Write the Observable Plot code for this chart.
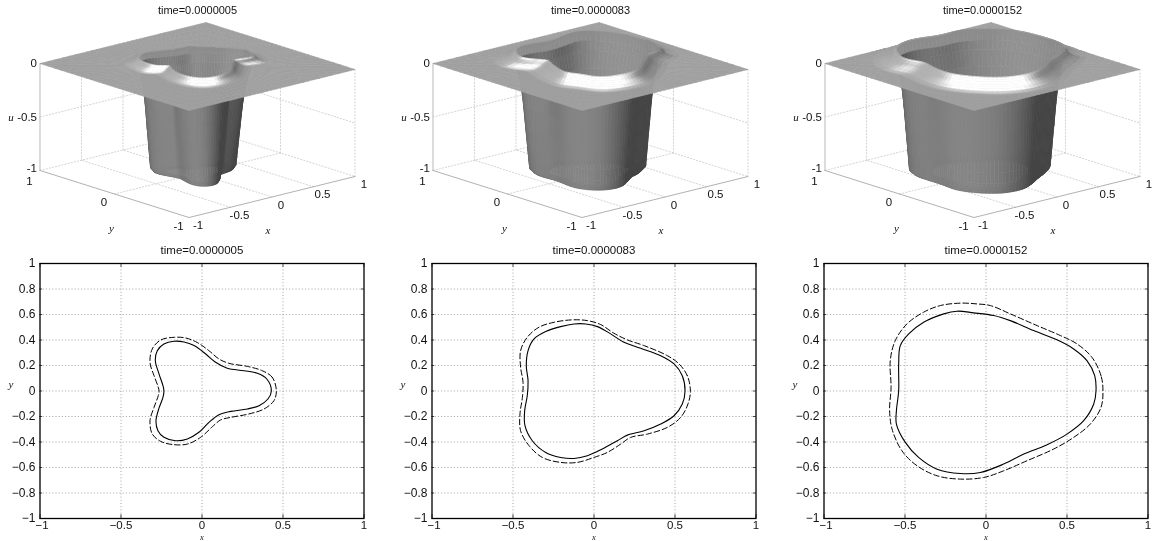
<!DOCTYPE html>
<html><head><meta charset="utf-8">
<script src="https://cdn.jsdelivr.net/npm/d3@7"></script>
<script src="https://cdn.jsdelivr.net/npm/@observablehq/plot@0.6"></script>
<style>
html,body{margin:0;padding:0;background:#fff;overflow:hidden}
#page{position:relative;width:1154px;height:541px;overflow:hidden}
#page svg{position:absolute;display:block;background:transparent;filter:blur(.35px)}
</style></head><body><div id="page"></div>
<script>
const times = ["time=0.0000005", "time=0.0000083", "time=0.0000152"];

// contours: [x, y]
const solidA = [[.428,0],[.40,.094],[.342,.139],[.259,.159],[.156,.178],[.084,.225],[.023,.29],[-.049,.356],[-.111,.384],[-.173,.39],[-.235,.369],[-.276,.316],[-.288,.238],[-.265,.133],[-.241,.042],[-.235,0],[-.241,-.05],[-.265,-.133],[-.284,-.233],[-.272,-.311],[-.235,-.363],[-.163,-.39],[-.09,-.376],[-.019,-.324],[.043,-.246],[.105,-.186],[.177,-.16],[.28,-.141],[.352,-.115],[.407,-.063]];
const dashedA = [[.459,0],[.434,.107],[.372,.159],[.28,.193],[.167,.217],[.105,.251],[.043,.316],[-.029,.38],[-.101,.416],[-.173,.421],[-.255,.4],[-.307,.33],[-.321,.225],[-.296,.12],[-.27,.03],[-.265,0],[-.27,-.037],[-.296,-.128],[-.321,-.233],[-.307,-.337],[-.255,-.395],[-.173,-.421],[-.09,-.416],[-.008,-.363],[.064,-.28],[.115,-.227],[.177,-.207],[.29,-.18],[.383,-.141],[.444,-.076]];
const solidB = [[.562,0],[.545,.12],[.494,.212],[.412,.277],[.288,.335],[.185,.382],[.103,.448],[.021,.505],[-.051,.526],[-.123,.526],[-.206,.505],[-.298,.466],[-.37,.408],[-.407,.317],[-.418,.199],[-.407,.081],[-.412,-.037],[-.428,-.154],[-.426,-.272],[-.381,-.39],[-.298,-.482],[-.206,-.521],[-.123,-.529],[-.041,-.508],[.051,-.455],[.144,-.39],[.206,-.346],[.309,-.312],[.412,-.259],[.494,-.194],[.545,-.102]];
const dashedB = [[.595,0],[.576,.12],[.525,.212],[.453,.277],[.309,.356],[.206,.401],[.123,.453],[.041,.521],[-.041,.552],[-.134,.558],[-.247,.539],[-.34,.5],[-.412,.421],[-.453,.317],[-.453,.186],[-.438,.068],[-.442,-.05],[-.457,-.181],[-.453,-.312],[-.401,-.429],[-.319,-.521],[-.206,-.56],[-.103,-.56],[0,-.521],[.082,-.482],[.165,-.416],[.226,-.364],[.329,-.338],[.453,-.285],[.535,-.207],[.58,-.102]];
const solidC = [[.679,0],[.671,.12],[.623,.238],[.541,.33],[.438,.401],[.294,.474],[.15,.552],[.047,.592],[-.076,.613],[-.179,.626],[-.261,.605],[-.385,.539],[-.477,.448],[-.529,.356],[-.539,.212],[-.539,.003],[-.553,-.154],[-.553,-.259],[-.498,-.403],[-.416,-.521],[-.302,-.613],[-.158,-.647],[-.035,-.639],[.109,-.573],[.233,-.495],[.377,-.421],[.5,-.338],[.603,-.233],[.665,-.102]];
const dashedC = [[.722,0],[.71,.12],[.654,.264],[.562,.369],[.459,.435],[.315,.513],[.15,.605],[.027,.67],[-.056,.683],[-.158,.689],[-.282,.67],[-.385,.618],[-.488,.526],[-.56,.395],[-.591,.238],[-.586,.029],[-.595,-.154],[-.58,-.298],[-.519,-.469],[-.426,-.586],[-.302,-.665],[-.158,-.691],[-.014,-.678],[.109,-.626],[.253,-.547],[.418,-.455],[.541,-.364],[.644,-.259],[.71,-.128]];

// rim of the opening: [x, y]
const rimA = [[-.362,.388],[-.186,.49],[-.042,.449],[.136,.38],[.24,.374],[.292,.285],[.427,.167],[.521,.043],[.531,-.093],[.458,-.242],[.374,-.254],[.293,-.183],[.123,-.333],[.003,-.44],[-.214,-.507],[-.372,-.455],[-.422,-.283],[-.383,-.104],[-.295,.074],[-.385,.068],[-.409,.216]];
const rimB = [[-.408,.552],[-.281,.654],[-.114,.678],[.085,.632],[.37,.681],[.467,.682],[.596,.57],[.707,.345],[.741,.06],[.687,-.148],[.566,-.255],[.462,-.25],[.285,-.393],[.052,-.573],[-.15,-.61],[-.37,-.546],[-.44,-.356],[-.499,-.22],[-.43,.018],[-.363,.172],[-.41,.255],[-.483,.362],[-.437,.492]];
const rimC = [[-.44,.665],[-.306,.76],[-.11,.803],[.158,.739],[.4,.741],[.556,.647],[.758,.428],[.812,.126],[.797,-.159],[.71,-.296],[.569,-.386],[.408,-.458],[.189,-.608],[-.048,-.698],[-.29,-.658],[-.472,-.499],[-.59,-.268],[-.591,-.055],[-.536,.195],[-.581,.32],[-.563,.474]];
const lipHeight = [.06, .09, .1];
const lipWidth = [.14, .2, .22];

const xTicks3D = [-1, -.5, 0, .5, 1], yTicks3D = [-1, 0, 1], zTicks3D = [0, -.5, -1];
const xTicks2D = [-1, -.5, 0, .5, 1], yTicks2D = [1, .8, .6, .4, .2, 0, -.2, -.4, -.6, -.8, -1];

const sans = "'Liberation Sans', Arial, sans-serif", serif = "'Liberation Serif', serif";
const page = document.getElementById("page");
const place = (svg, left, top) => { svg.style.left = left + "px"; svg.style.top = top + "px"; page.appendChild(svg); };

// view of the 3-D box
const pX = (x, y) => 83 * x - 74.5 * y;
const pY = (x, y, z) => 20.5 * x + 23.5 * y + 107 * z;
const V = [-.645, -.715, .277];
const L = [-.43, -.16, .61];
const H = [-.38, -.48, .79];
const N = 120;

function dense(loop) {
  const out = [], n = loop.length;
  for (let i = 0; i < n; i++) {
    const p0 = loop[(i - 1 + n) % n], p1 = loop[i], p2 = loop[(i + 1) % n], p3 = loop[(i + 2) % n];
    for (let k = 0; k < 6; k++) {
      const t = k / 6, t2 = t * t, t3 = t2 * t;
      out.push([0, 1].map(c => .5 * (2 * p1[c] + (p2[c] - p0[c]) * t + (2 * p0[c] - 5 * p1[c] + 4 * p2[c] - p3[c]) * t2 + (3 * p1[c] - p0[c] - 3 * p2[c] + p3[c]) * t3)));
    }
  }
  return out;
}
function radial(loop) {
  const c = dense(loop), r = [];
  for (let k = 0; k < N; k++) {
    const a = 2 * Math.PI * k / N, ux = Math.cos(a), uy = Math.sin(a);
    let best = 0;
    for (let i = 0; i < c.length; i++) {
      const A = c[i], B = c[(i + 1) % c.length], ex = B[0] - A[0], ey = B[1] - A[1];
      const det = ux * (-ey) + ex * uy;
      if (Math.abs(det) < 1e-12) continue;
      const t = (A[0] * (-ey) + ex * A[1]) / det, s = (ux * A[1] - uy * A[0]) / det;
      if (t > 0 && s >= 0 && s <= 1 && t > best) best = t;
    }
    r.push(best);
  }
  return r;
}
function smooth(r, passes) {
  let s = r;
  for (let p = 0; p < passes; p++) s = s.map((v, i) => (s[(i + N - 1) % N] + 2 * v + s[(i + 1) % N]) / 4);
  return s;
}
function shade(p00, p10, p11, p01, isWall, isCrest) {
  const d1 = p11.map((v, i) => v - p00[i]), d2 = p01.map((v, i) => v - p10[i]);
  let n = [d1[1] * d2[2] - d1[2] * d2[1], d1[2] * d2[0] - d1[0] * d2[2], d1[0] * d2[1] - d1[1] * d2[0]];
  const m = Math.hypot(...n); if (m < 1e-12) return null;
  n = n.map(v => v / m);
  const away = n[2] < 0 && !isWall;
  if (n[0] * V[0] + n[1] * V[1] + n[2] * V[2] < 0) n = n.map(v => -v);
  let g;
  if (isWall) {
    n[2] = 0; const q = Math.hypot(...n) || 1; n = n.map(v => v / q);
    const inner = n[0] * (p00[0] + p11[0]) + n[1] * (p00[1] + p11[1]) < 0;
    g = .27 + .55 * Math.max(0, n[0] * L[0] + n[1] * L[1]) + (inner ? .05 : 0);
    if (isCrest) g = Math.max(g, .55);
  } else if (n[2] < 0) {
    g = .63;
  } else {
    if (n[0] + n[1] > 0) { n = [n[0] * .35, n[1] * .35, n[2]]; const q = Math.hypot(...n); n = n.map(v => v / q); }
    const dif = Math.max(0, n[0] * L[0] + n[1] * L[1] + n[2] * L[2]);
    const nh = n[0] * H[0] + n[1] * H[1] + n[2] * H[2];
    const spec = Math.pow(Math.max(0, nh - .82) / .18, 2);
    g = .2 + .7 * dif + .75 * spec;
  }
  const c = Math.round(Math.min(1, g) * 255);
  return `rgb(${c},${c},${c})`;
}
function mesh(rim, solid, h, w) {
  const edge = k => { const a = 2 * Math.PI * k / N; return 1 / Math.max(Math.abs(Math.cos(a)), Math.abs(Math.sin(a))); };
  const wall = [[.7, 0, -1], [.94, 0, -1], [1, 0, -.97], [1, .06, -.9], [1, .14, -.8], [1, .3, -.6], [1, .45, -.4], [1, .62, -.22], [1, .86, -.08], [1, .975, 0]];
  const lip = [[.1, .9], [.2, .73], [.3, .55], [.4, .41], [.5, .3], [.7, .12], [.9, .03], [1, 0]];
  const build = (rR, rC) => {
    const rings = [];
    for (const [a, f, z] of wall) rings.push(k => [a * (rC[k] + f * (rR[k] - rC[k])), z]);
    rings.push(k => [rR[k], h]);
    for (const [s, g] of lip) rings.push(k => [rR[k] + w * s, h * g]);
    for (const f of [.2, .4, .6, .8, 1]) rings.push(k => { const b = Math.min(rR[k] + w, edge(k)); return [b + f * (edge(k) - b), 0]; });
    return rings;
  };
  const rR0 = radial(rim), rC0 = radial(solid);
  const geomRings = build(smooth(rR0, 3), smooth(rC0, 3));
  const lookWall = build(smooth(rR0, 16), smooth(rC0, 16));
  const lookLip = build(smooth(rR0, 6), smooth(rC0, 6));
  const at = (rings, i, k0) => { const k = (k0 + N) % N, a = 2 * Math.PI * k / N, [r, z] = rings[i](k), q = Math.min(r, edge(k)); return [q * Math.cos(a), q * Math.sin(a), z]; };
  const polys = [];
  for (let i = 0; i < geomRings.length - 1; i++) for (let k = 0; k < N; k++) {
    const a = at(geomRings, i, k), b = at(geomRings, i + 1, k), c = at(geomRings, i + 1, k + 1), d = at(geomRings, i, k + 1);
    const isWall = i < wall.length, look = isWall ? lookWall : lookLip;
    const fill = shade(at(look, i, k), at(look, i + 1, k), at(look, i + 1, k + 1), at(look, i, k + 1), isWall, i === wall.length - 1);
    if (!fill) continue;
    const depth = [a, b, c, d].reduce((s, p) => s + p[0] * V[0] + p[1] * V[1] + p[2] * V[2], 0);
    polys.push({depth, fill, type: "Polygon", coordinates: [[a, b, c, d, a].map(p => [pX(p[0], p[1]), pY(p[0], p[1], p[2])])]});
  }
  return polys.sort((p, q) => p.depth - q.depth);
}
function box() {
  const seg = [], add = (a, b) => seg.push([a, b]);
  for (const t of [-.5, 0, .5]) { add([t, -1, -1], [t, 1, -1]); add([t, 1, -1], [t, 1, 0]); }
  add([-1, 0, -1], [1, 0, -1]); add([1, 0, -1], [1, 0, 0]);
  add([-1, 1, -.5], [1, 1, -.5]); add([1, 1, -.5], [1, -1, -.5]);
  add([-1, 1, -1], [1, 1, -1]); add([1, 1, -1], [1, -1, -1]); add([1, -1, -1], [1, -1, 0]);
  return seg.flatMap(([a, b], i) => [a, b].map(p => ({s: i, x: pX(p[0], p[1]), y: pY(p[0], p[1], p[2])})));
}
const P3 = (x, y, z) => ({x: pX(x, y), y: pY(x, y, z)});

[rimA, rimB, rimC].forEach((rim, i) => {
  const solid = [solidA, solidB, solidC][i];
  const frameEdges = [[-1, 1, -1], [-1, -1, -1], [1, -1, -1]].map(p => P3(...p));
  const zEdge = [[-1, 1, 0], [-1, 1, -1]].map(p => P3(...p));
  const zText = {x: () => pX(-1, 1), y: d => pY(-1, 1, d), text: d => String(d), dx: -3, textAnchor: "end", fontSize: 11.5, fill: "#111"};
  const yText = {x: d => pX(-1, d), y: d => pY(-1, d, -1), text: d => String(d), dx: -10.5, fontSize: 11.5, fill: "#111"};
  const fig = Plot.plot({
    width: 369, height: 240, margin: 0,
    x: {domain: [-197, 172], range: [0, 369], axis: null},
    y: {domain: [66, -174], range: [0, 240], axis: null},
    color: {type: "identity"},
    style: {background: "transparent", fontFamily: sans},
    marks: [
      Plot.line(box(), {x: "x", y: "y", z: "s", stroke: "#c8c8c8", strokeWidth: .8, strokeDasharray: "1.2,2"}),
      Plot.line(zEdge, {x: "x", y: "y", stroke: "#c4c4c4", strokeWidth: 1.2}),
      Plot.line(frameEdges, {x: "x", y: "y", stroke: "#a8a8a8", strokeWidth: .9}),
      Plot.geo(mesh(rim, solid, lipHeight[i], lipWidth[i]), {fill: d => d.fill, stroke: d => d.fill, strokeWidth: .6}),
      Plot.text(zTicks3D.slice(0, 2), zText),
      Plot.text(zTicks3D.slice(2), {...zText, dy: -2.5}),
      Plot.text(xTicks3D, {x: d => pX(d, -1), y: d => pY(d, -1, -1), text: d => String(d), dx: 9, dy: 8, fontSize: 11.5, fill: "#111"}),
      Plot.text(yTicks3D.slice(0, 2), {...yText, dy: 8.5}),
      Plot.text(yTicks3D.slice(2), {...yText, dy: 11}),
      Plot.text(["x"], {x: () => pX(0, -1), y: () => pY(0, -1, -1), text: d => d, dx: -4, dy: 33, fontFamily: serif, fontStyle: "italic", fontSize: 11, fill: "#111"}),
      Plot.text(["y"], {x: () => pX(-1, 0), y: () => pY(-1, 0, -1), text: d => d, dx: -3, dy: 34, fontFamily: serif, fontStyle: "italic", fontSize: 11, fill: "#111"}),
      Plot.text(["u"], {x: () => pX(-1, 1), y: () => pY(-1, 1, -.5), text: d => d, dx: -29, fontFamily: serif, fontStyle: "italic", fontSize: 11, fill: "#111"}),
      Plot.text([times[i]], {x: () => 0, y: () => 56, text: d => d, fontSize: 11, fill: "#111"})
    ]
  });
  place(fig, [0, 393, 785][i], 0);
});

[[solidA, dashedA], [solidB, dashedB], [solidC, dashedC]].forEach(([solid, dashed], i) => {
  const minus = d => String(d).replace("-", "\u2212");
  const inX = t => [[t, -1, -.97], [t, 1, .97]];
  const xText = {x: d => d, y: () => -1, text: minus, dy: 7.3, fontSize: 11.5, fill: "#111"};
  const fig = Plot.plot({
    width: 370, height: 301, marginLeft: 39.5, marginRight: 6.5, marginTop: 23, marginBottom: 23,
    x: {domain: [-1, 1], axis: null},
    y: {domain: [-1, 1], axis: null},
    style: {background: "transparent", fontFamily: sans},
    marks: [
      Plot.ruleX(xTicks2D.slice(1, -1), {stroke: "#8a8a8a", strokeWidth: .8, strokeDasharray: "1,2.2"}),
      Plot.ruleY(yTicks2D.slice(1, -1), {stroke: "#8a8a8a", strokeWidth: .8, strokeDasharray: "1,2.2"}),
      Plot.ruleX(xTicks2D.flatMap(inX), {x: d => d[0], y1: d => d[1], y2: d => d[2], stroke: "#000", strokeWidth: .7}),
      Plot.ruleY(yTicks2D.flatMap(t => [[t, -1, -.984], [t, 1, .984]]), {y: d => d[0], x1: d => d[1], x2: d => d[2], stroke: "#000", strokeWidth: .7}),
      Plot.frame({stroke: "#000", strokeWidth: 1.3}),
      Plot.line(solid, {x: d => d[0], y: d => d[1], curve: "catmull-rom-closed", stroke: "#000", strokeWidth: 1.1}),
      Plot.line(dashed, {x: d => d[0], y: d => d[1], curve: "catmull-rom-closed", stroke: "#000", strokeWidth: 1, strokeDasharray: "5.5,2.8"}),
      Plot.text(yTicks2D, {x: () => -1, y: d => d, text: minus, dx: -4.5, textAnchor: "end", fontSize: 12, fill: "#111"}),
      Plot.text(xTicks2D.slice(0, 1), {...xText, dx: 2}),
      Plot.text(xTicks2D.slice(1), xText),
      Plot.text(["x"], {x: () => 0, y: () => -1, text: d => d, dy: 18.3, fontFamily: serif, fontStyle: "italic", fontSize: 8.5, fill: "#111"}),
      Plot.text(["y"], {x: () => -1, y: () => .05, text: d => d, dx: -29, fontFamily: serif, fontStyle: "italic", fontSize: 11, fill: "#111"}),
      Plot.text([times[i]], {x: () => 0, y: () => 1, text: d => d, dy: -13.5, fontSize: 11.5, fill: "#111"})
    ]
  });
  place(fig, [0, 392, 784][i], 240);
});
</script></body></html>
